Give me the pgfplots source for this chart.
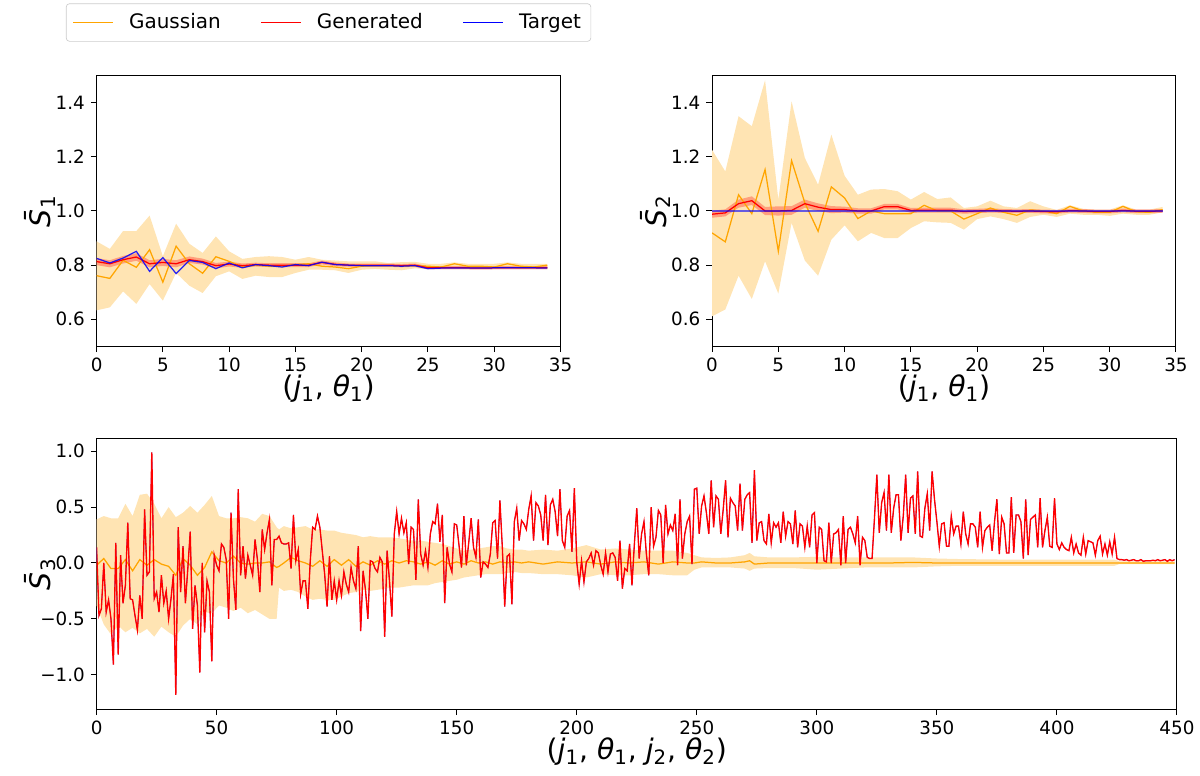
\documentclass[border=0pt]{standalone}
\usepackage{fontspec}
\setmainfont{DejaVu Sans}
\usepackage{pgfplots}
\pgfplotsset{compat=1.18}
\usepackage{pgfplotstable}
\usepgfplotslibrary{fillbetween}
\definecolor{mplorange}{HTML}{FFA500}
\definecolor{bandorange}{HTML}{FFE4B3}
\definecolor{mplred}{HTML}{FF0000}
\definecolor{mplblue}{HTML}{0000FF}

% top-left: S1
\pgfplotstableread{
x tgt gen glo ghi gm gu gl
0 0.825 0.813 0.800 0.826 0.761 0.888 0.633
1 0.808 0.805 0.792 0.818 0.751 0.860 0.644
2 0.826 0.820 0.806 0.834 0.818 0.926 0.703
3 0.851 0.830 0.816 0.844 0.792 0.926 0.657
4 0.777 0.805 0.792 0.818 0.857 0.983 0.730
5 0.828 0.810 0.797 0.823 0.737 0.833 0.669
6 0.769 0.805 0.792 0.818 0.870 0.953 0.771
7 0.817 0.820 0.808 0.832 0.805 0.879 0.724
8 0.810 0.813 0.802 0.824 0.770 0.845 0.697
9 0.787 0.798 0.788 0.808 0.831 0.906 0.759
10 0.808 0.804 0.795 0.813 0.814 0.851 0.777
11 0.790 0.798 0.790 0.806 0.793 0.823 0.749
12 0.802 0.802 0.795 0.809 0.800 0.830 0.761
13 0.798 0.800 0.793 0.807 0.796 0.833 0.756
14 0.793 0.800 0.793 0.807 0.796 0.830 0.756
15 0.802 0.800 0.793 0.807 0.802 0.820 0.771
16 0.798 0.800 0.793 0.807 0.805 0.830 0.783
17 0.811 0.810 0.803 0.817 0.796 0.820 0.783
18 0.802 0.803 0.796 0.810 0.793 0.817 0.781
19 0.800 0.800 0.794 0.806 0.787 0.814 0.771
20 0.798 0.800 0.794 0.806 0.796 0.814 0.783
21 0.798 0.800 0.794 0.806 0.798 0.814 0.786
22 0.798 0.800 0.794 0.806 0.798 0.808 0.783
23 0.796 0.798 0.792 0.804 0.796 0.811 0.781
24 0.798 0.800 0.794 0.806 0.798 0.812 0.788
25 0.787 0.790 0.784 0.796 0.796 0.805 0.786
26 0.789 0.790 0.784 0.796 0.793 0.805 0.786
27 0.789 0.790 0.784 0.796 0.805 0.810 0.788
28 0.789 0.790 0.784 0.796 0.796 0.805 0.786
29 0.789 0.789 0.783 0.795 0.796 0.805 0.786
30 0.790 0.790 0.784 0.796 0.793 0.805 0.786
31 0.790 0.790 0.784 0.796 0.805 0.810 0.788
32 0.790 0.790 0.784 0.796 0.796 0.805 0.786
33 0.790 0.790 0.784 0.796 0.793 0.805 0.786
34 0.789 0.790 0.784 0.796 0.800 0.805 0.786
}\tabA

% top-right: S2
\pgfplotstableread{
x tgt gen glo ghi gm gu gl
0 1.0 0.988 0.975 1.001 0.919 1.226 0.611
1 1.0 0.993 0.980 1.006 0.886 1.146 0.636
2 1.0 1.027 1.012 1.042 1.060 1.350 0.761
3 1.0 1.038 1.022 1.054 0.990 1.313 0.675
4 1.0 1.000 0.985 1.015 1.153 1.483 0.814
5 1.0 1.000 0.983 1.017 0.851 1.042 0.695
6 1.0 1.002 0.986 1.018 1.186 1.405 0.956
7 1.0 1.027 1.012 1.042 1.030 1.196 0.817
8 1.0 1.014 1.000 1.028 0.925 1.097 0.761
9 1.0 1.005 0.992 1.018 1.089 1.282 0.894
10 1.0 1.005 0.994 1.016 1.048 1.130 0.947
11 1.0 1.000 0.990 1.010 0.972 1.060 0.888
12 1.0 1.000 0.990 1.010 1.000 1.079 0.919
13 1.0 1.016 1.006 1.026 0.990 1.081 0.900
14 1.0 1.016 1.006 1.026 0.990 1.073 0.900
15 1.0 1.002 0.993 1.011 0.990 1.042 0.937
16 1.0 1.003 0.994 1.012 1.021 1.070 0.962
17 1.0 1.003 0.994 1.012 1.000 1.044 0.958
18 1.0 1.003 0.994 1.012 1.000 1.050 0.956
19 1.0 0.998 0.990 1.006 0.970 1.011 0.931
20 1.0 1.000 0.992 1.008 0.990 1.017 0.970
21 1.0 1.002 0.994 1.010 1.011 1.038 0.980
22 1.0 1.000 0.993 1.007 0.995 1.017 0.970
23 1.0 0.999 0.992 1.006 0.984 1.011 0.956
24 1.0 1.000 0.993 1.007 1.004 1.036 0.978
25 1.0 0.998 0.991 1.005 1.000 1.017 0.986
26 1.0 0.997 0.990 1.004 0.990 1.004 0.978
27 1.0 1.001 0.994 1.008 1.017 1.021 0.990
28 1.0 1.000 0.993 1.007 1.000 1.008 0.986
29 1.0 0.998 0.991 1.005 0.995 1.005 0.986
30 1.0 0.998 0.991 1.005 0.995 1.005 0.982
31 1.0 1.002 0.995 1.009 1.017 1.021 0.990
32 1.0 0.999 0.992 1.006 0.997 1.005 0.986
33 1.0 0.999 0.992 1.006 0.995 1.005 0.986
34 1.0 1.000 0.993 1.007 1.005 1.015 0.995
}\tabB

% bottom: S3 generated (target lies underneath)
\pgfplotstableread[row sep=\\]{
x y\\
0 0.14\\1 -0.47\\2 -0.41\\3 0.00\\4 -0.44\\5 -0.33\\6 -0.50\\7 -0.91\\8 0.18\\9 -0.82\\
10 0.07\\11 -0.36\\12 -0.20\\13 0.36\\14 -0.32\\15 -0.33\\16 -0.47\\17 -0.60\\18 -0.29\\19 -0.50\\
20 0.48\\21 -0.11\\22 -0.08\\23 0.99\\24 -0.32\\25 -0.26\\26 -0.44\\27 -0.11\\28 -0.36\\29 -0.25\\
30 -0.50\\31 -0.32\\32 -0.10\\33 -1.18\\34 0.32\\35 -0.26\\36 0.15\\37 -0.36\\38 -0.05\\39 0.28\\
40 -0.59\\41 -0.20\\42 -0.38\\43 -0.98\\44 0.00\\45 -0.62\\46 -0.16\\47 -0.26\\48 -0.88\\49 0.07\\
50 -0.02\\51 -0.07\\52 0.17\\53 0.14\\54 0.03\\55 -0.50\\56 0.45\\57 -0.14\\58 -0.42\\59 0.66\\
60 -0.11\\61 0.15\\62 -0.14\\63 0.07\\64 -0.02\\65 -0.11\\66 0.21\\67 0.03\\68 -0.26\\69 0.30\\
70 0.12\\71 0.27\\72 0.39\\73 -0.20\\74 0.21\\75 0.21\\76 0.24\\77 0.18\\78 0.17\\79 0.17\\
80 0.18\\81 -0.05\\82 0.43\\83 0.02\\84 0.12\\85 -0.28\\86 -0.16\\87 -0.16\\88 -0.41\\89 0.02\\
90 0.32\\91 0.30\\92 0.42\\93 0.32\\94 0.11\\95 -0.10\\96 -0.39\\97 0.06\\98 -0.33\\99 -0.16\\
100 -0.33\\101 -0.16\\102 -0.29\\103 -0.08\\104 -0.19\\105 -0.26\\106 -0.04\\107 -0.16\\108 -0.23\\109 0.15\\
110 -0.61\\111 -0.07\\112 -0.24\\113 -0.50\\114 0.02\\115 0.01\\116 -0.05\\117 -0.08\\118 0.05\\119 0.01\\
120 -0.66\\121 0.11\\122 -0.16\\123 -0.48\\124 0.26\\125 0.46\\126 0.26\\127 0.40\\128 0.27\\129 0.36\\
130 -0.01\\131 0.32\\132 0.30\\133 -0.15\\134 0.57\\135 0.08\\136 -0.02\\137 0.11\\138 -0.04\\139 0.26\\
140 0.37\\141 0.35\\142 0.53\\143 0.19\\144 0.43\\145 -0.36\\146 0.14\\147 -0.01\\148 -0.08\\149 0.35\\
150 0.34\\151 0.15\\152 -0.04\\153 0.42\\154 -0.02\\155 0.18\\156 0.40\\157 0.14\\158 0.05\\159 0.39\\
160 -0.13\\161 0.01\\162 -0.01\\163 -0.04\\164 0.08\\165 0.36\\166 0.38\\167 0.04\\168 0.56\\169 0.14\\
170 -0.39\\171 0.06\\172 0.08\\173 -0.37\\174 0.37\\175 0.49\\176 0.20\\177 0.38\\178 0.35\\179 0.30\\
180 0.48\\181 0.60\\182 0.20\\183 0.54\\184 0.51\\185 0.43\\186 0.20\\187 0.61\\188 0.16\\189 0.52\\
190 0.57\\191 0.46\\192 0.24\\193 0.66\\194 0.20\\195 0.14\\196 0.42\\197 0.47\\198 0.10\\199 0.67\\
200 0.01\\201 -0.19\\202 0.02\\203 -0.17\\204 0.01\\205 0.04\\206 0.09\\207 -0.02\\208 0.11\\209 0.09\\
210 -0.02\\211 -0.10\\212 0.09\\213 -0.08\\214 0.08\\215 0.09\\216 0.05\\217 -0.16\\218 0.20\\219 -0.23\\
220 -0.05\\221 -0.07\\222 0.17\\223 -0.20\\224 0.17\\225 0.49\\226 0.04\\227 0.26\\228 0.37\\229 0.08\\
230 -0.11\\231 0.50\\232 0.15\\233 0.23\\234 0.47\\235 0.43\\236 0.00\\237 0.52\\238 0.26\\239 0.34\\
240 0.29\\241 0.44\\242 -0.02\\243 0.57\\244 0.04\\245 0.26\\246 0.37\\247 0.42\\248 -0.01\\249 0.66\\
250 0.67\\251 0.26\\252 0.51\\253 0.60\\254 0.45\\255 0.26\\256 0.74\\257 0.32\\258 0.60\\259 0.57\\
260 0.26\\261 0.48\\262 0.74\\263 0.23\\264 0.58\\265 0.54\\266 0.51\\267 0.29\\268 0.71\\269 0.29\\
270 0.57\\271 0.61\\272 0.63\\273 0.18\\274 0.83\\275 0.20\\276 0.36\\277 0.37\\278 0.20\\279 0.17\\
280 0.44\\281 0.18\\282 0.36\\283 0.32\\284 0.36\\285 0.18\\286 0.46\\287 0.24\\288 0.37\\289 0.35\\
290 0.17\\291 0.47\\292 0.14\\293 0.35\\294 0.33\\295 0.14\\296 0.33\\297 0.14\\298 0.43\\299 0.45\\
300 0.00\\301 0.32\\302 0.30\\303 0.02\\304 0.01\\305 0.36\\306 0.00\\307 0.26\\308 0.27\\309 0.30\\
310 -0.02\\311 0.42\\312 0.00\\313 0.30\\314 0.32\\315 0.26\\316 0.18\\317 0.42\\318 -0.02\\319 0.23\\
320 0.20\\321 0.05\\322 0.04\\323 0.04\\324 0.40\\325 0.79\\326 0.27\\327 0.54\\328 0.63\\329 0.29\\
330 0.79\\331 0.27\\332 0.49\\333 0.61\\334 0.61\\335 0.20\\336 0.42\\337 0.79\\338 0.27\\339 0.58\\
340 0.60\\341 0.26\\342 0.82\\343 0.24\\344 0.23\\345 0.49\\346 0.62\\347 0.29\\348 0.82\\349 0.57\\
350 0.37\\351 0.15\\352 0.35\\353 0.36\\354 0.15\\355 0.15\\356 0.42\\357 0.26\\358 0.33\\359 0.33\\
360 0.17\\361 0.46\\362 0.26\\363 0.17\\364 0.35\\365 0.35\\366 0.32\\367 0.14\\368 0.46\\369 0.14\\
370 0.29\\371 0.32\\372 0.34\\373 0.11\\374 0.37\\375 0.57\\376 0.08\\377 0.41\\378 0.35\\379 0.09\\
380 0.09\\381 0.59\\382 0.09\\383 0.43\\384 0.43\\385 0.37\\386 0.04\\387 0.57\\388 0.07\\389 0.39\\
390 0.41\\391 0.43\\392 0.14\\393 0.58\\394 0.14\\395 0.29\\396 0.41\\397 0.15\\398 0.14\\399 0.58\\
400 0.17\\401 0.12\\402 0.18\\403 0.14\\404 0.12\\405 0.11\\406 0.23\\407 0.09\\408 0.17\\409 0.09\\
410 0.07\\411 0.23\\412 0.08\\413 0.20\\414 0.19\\415 0.18\\416 0.07\\417 0.20\\418 0.24\\419 0.08\\
420 0.17\\421 0.07\\422 0.19\\423 0.08\\424 0.23\\425 0.04\\426 0.03\\427 0.03\\428 0.025\\429 0.03\\
430 0.02\\431 0.025\\432 0.03\\433 0.02\\434 0.02\\435 0.03\\436 0.015\\437 0.02\\438 0.02\\439 0.02\\
440 0.025\\441 0.02\\442 0.03\\443 0.02\\444 0.025\\445 0.03\\446 0.015\\447 0.03\\448 0.02\\449 0.03\\
}\tabC

% bottom: Gaussian mean and band
\pgfplotstableread{
x m u l
0 -0.02 0.39 -0.38
3 0.04 0.42 -0.55
6 -0.05 0.40 -0.64
9 -0.05 0.40 -0.56
12 0.03 0.53 -0.62
15 -0.07 0.42 -0.58
18 0.03 0.61 -0.63
21 -0.02 0.62 -0.59
24 0.03 0.53 -0.66
27 -0.01 0.40 -0.57
30 -0.03 0.50 -0.62
33 -0.11 0.41 -0.66
36 0.04 0.45 -0.56
39 -0.02 0.51 -0.50
42 -0.11 0.45 -0.55
45 -0.04 0.52 -0.44
48 0.10 0.60 -0.45
51 0.02 0.42 -0.38
54 0.00 0.40 -0.40
57 0.06 0.40 -0.43
60 0.00 0.41 -0.40
63 -0.01 0.40 -0.45
66 0.00 0.37 -0.42
69 0.00 0.44 -0.46
72 0.01 0.42 -0.50
75 -0.04 0.32 -0.50
76 -0.03 0.30 -0.22
78 0.00 0.33 -0.25
81 0.05 0.31 -0.24
84 0.02 0.32 -0.26
87 0.00 0.33 -0.30
90 -0.03 0.30 -0.33
93 0.02 0.30 -0.32
96 -0.03 0.29 -0.33
99 0.03 0.29 -0.33
102 -0.02 0.27 -0.30
105 0.03 0.26 -0.27
108 -0.03 0.25 -0.26
111 0.01 0.23 -0.24
114 -0.02 0.24 -0.25
117 0.02 0.23 -0.24
120 -0.01 0.23 -0.23
123 0.02 0.23 -0.22
126 0.00 0.22 -0.22
129 0.02 0.21 -0.21
132 0.01 0.20 -0.20
135 -0.01 0.20 -0.20
138 0.01 0.19 -0.20
141 -0.02 0.18 -0.18
144 0.02 0.17 -0.17
147 -0.01 0.15 -0.16
150 0.01 0.13 -0.15
153 -0.01 0.11 -0.13
156 0.02 0.12 -0.12
159 0.00 0.13 -0.11
162 0.01 0.14 -0.10
165 -0.01 0.15 -0.10
168 0.01 0.15 -0.10
171 0.00 0.13 -0.09
174 0.01 0.12 -0.08
177 0.00 0.12 -0.09
180 0.01 0.11 -0.09
186 -0.01 0.12 -0.10
192 0.01 0.11 -0.10
198 0.00 0.13 -0.11
204 0.01 0.16 -0.13
210 -0.01 0.12 -0.10
216 0.01 0.13 -0.11
222 0.00 0.12 -0.11
228 0.01 0.11 -0.10
234 -0.01 0.11 -0.10
240 0.01 0.11 -0.11
246 0.00 0.09 -0.11
249 0.00 0.07 -0.06
252 0.01 0.05 -0.04
258 0.00 0.045 -0.04
264 0.00 0.05 -0.04
270 0.01 0.07 -0.05
272 0.02 0.09 -0.07
274 -0.01 0.06 -0.05
280 0.00 0.05 -0.045
290 0.00 0.05 -0.045
300 0.00 0.055 -0.06
310 0.00 0.05 -0.05
320 0.00 0.05 -0.04
330 0.00 0.05 -0.04
340 0.005 0.05 -0.04
350 0.00 0.04 -0.03
360 0.00 0.035 -0.025
380 0.00 0.03 -0.025
400 0.00 0.03 -0.025
424 0.00 0.03 -0.025
426 0.00 0.015 -0.01
449 0.00 0.015 -0.01
}\tabD

\pgfplotsset{
  myax/.style={
    scale only axis,
    axis line style={line width=0.6pt},
    tick align=outside, tick pos=left,
    major tick length=3.5pt,
    tick style={line width=0.6pt, black},
    /pgf/number format/assume math mode=true,
    ticklabel style={font=\fontsize{11}{13}\selectfont},
    label style={font=\fontsize{17}{19}\selectfont},
    xlabel style={yshift=5pt},
    every axis plot/.append style={line width=0.75pt},
  },
  topax/.style={
    myax, width=278.6pt, height=162.6pt,
    xmin=0, xmax=35, ymin=0.5, ymax=1.5,
    xtick={0,5,...,35},
    ytick={0.6,0.8,1.0,1.2,1.4},
    yticklabels={0.6,0.8,1.0,1.2,1.4},
    xlabel={(\textit{j}\textsubscript{1}, \textit{θ}\textsubscript{1})},
    ylabel style={at={(axis description cs:-0.122,0.5)}, anchor=center},
  },
}

\begin{document}
\begin{tikzpicture}
\path (0,0) rectangle (720pt,465.6pt);

% ---------- top-left ----------
\begin{axis}[topax, at={(58pt,257.6pt)}, anchor=south west,
  ylabel={\textit{\=S}\textsubscript{1}},
  legend columns=3,
  legend style={at={(0.5,1.196)}, anchor=center, draw=black!20, rounded corners=2pt,
    font=\fontsize{12}{14}\selectfont, inner xsep=4pt, inner ysep=4pt,
    /tikz/every odd column/.append style={column sep=7pt},
    /tikz/every even column/.append style={column sep=22pt}},
  legend image code/.code={\draw[#1] (0pt,0pt) -- (24pt,0pt);},
]
\addlegendimage{mplorange, line width=0.75pt}\addlegendentry{Gaussian}
\addlegendimage{mplred, line width=0.75pt}\addlegendentry{Generated}
\addlegendimage{mplblue, line width=0.75pt}\addlegendentry{Target}
\addplot[name path=au, draw=none, forget plot] table[x=x, y=gu] {\tabA};
\addplot[name path=al, draw=none, forget plot] table[x=x, y=gl] {\tabA};
\addplot[bandorange, forget plot] fill between[of=au and al];
\addplot[mplorange, forget plot] table[x=x, y=gm] {\tabA};
\addplot[name path=ru, draw=none, forget plot] table[x=x, y=ghi] {\tabA};
\addplot[name path=rl, draw=none, forget plot] table[x=x, y=glo] {\tabA};
\addplot[mplred, fill opacity=0.3, forget plot] fill between[of=ru and rl];
\addplot[mplred, forget plot] table[x=x, y=gen] {\tabA};
\addplot[mplblue, draw opacity=0.85, forget plot] table[x=x, y=tgt] {\tabA};
\end{axis}

% ---------- top-right ----------
\begin{axis}[topax, at={(427.6pt,257.6pt)}, anchor=south west,
  ylabel={\textit{\=S}\textsubscript{2}},
]
\addplot[name path=bu, draw=none, forget plot] table[x=x, y=gu] {\tabB};
\addplot[name path=bl, draw=none, forget plot] table[x=x, y=gl] {\tabB};
\addplot[bandorange, forget plot] fill between[of=bu and bl];
\addplot[mplorange, forget plot] table[x=x, y=gm] {\tabB};
\addplot[name path=su, draw=none, forget plot] table[x=x, y=ghi] {\tabB};
\addplot[name path=sl, draw=none, forget plot] table[x=x, y=glo] {\tabB};
\addplot[mplred, fill opacity=0.3, forget plot] fill between[of=su and sl];
\addplot[mplred, forget plot] table[x=x, y=gen] {\tabB};
\addplot[mplblue, draw opacity=0.6, forget plot] table[x=x, y=tgt] {\tabB};
\end{axis}

% ---------- bottom ----------
\begin{axis}[myax, at={(58pt,39.6pt)}, anchor=south west,
  width=648.8pt, height=162.4pt,
  xmin=0, xmax=450, ymin=-1.31, ymax=1.11,
  xtick={0,50,...,450},
  ytick={-1,-0.5,0,0.5,1},
  yticklabels={−1.0,−0.5,0.0,0.5,1.0},
  xlabel={(\textit{j}\textsubscript{1}, \textit{θ}\textsubscript{1}, \textit{j}\textsubscript{2}, \textit{θ}\textsubscript{2})},
  ylabel={\textit{\=S}\textsubscript{3}},
  ylabel style={at={(axis description cs:-0.0524,0.5)}, anchor=center},
]
\addplot[name path=cu, draw=none, forget plot] table[x=x, y=u] {\tabD};
\addplot[name path=cl, draw=none, forget plot] table[x=x, y=l] {\tabD};
\addplot[bandorange, forget plot] fill between[of=cu and cl];
\addplot[mplorange, forget plot] table[x=x, y=m] {\tabD};
\addplot[mplblue, line width=0.35pt, forget plot] table[x=x, y=y] {\tabC};
\addplot[mplred, line width=0.8pt, forget plot] table[x=x, y=y] {\tabC};
\end{axis}
\end{tikzpicture}
\end{document}
